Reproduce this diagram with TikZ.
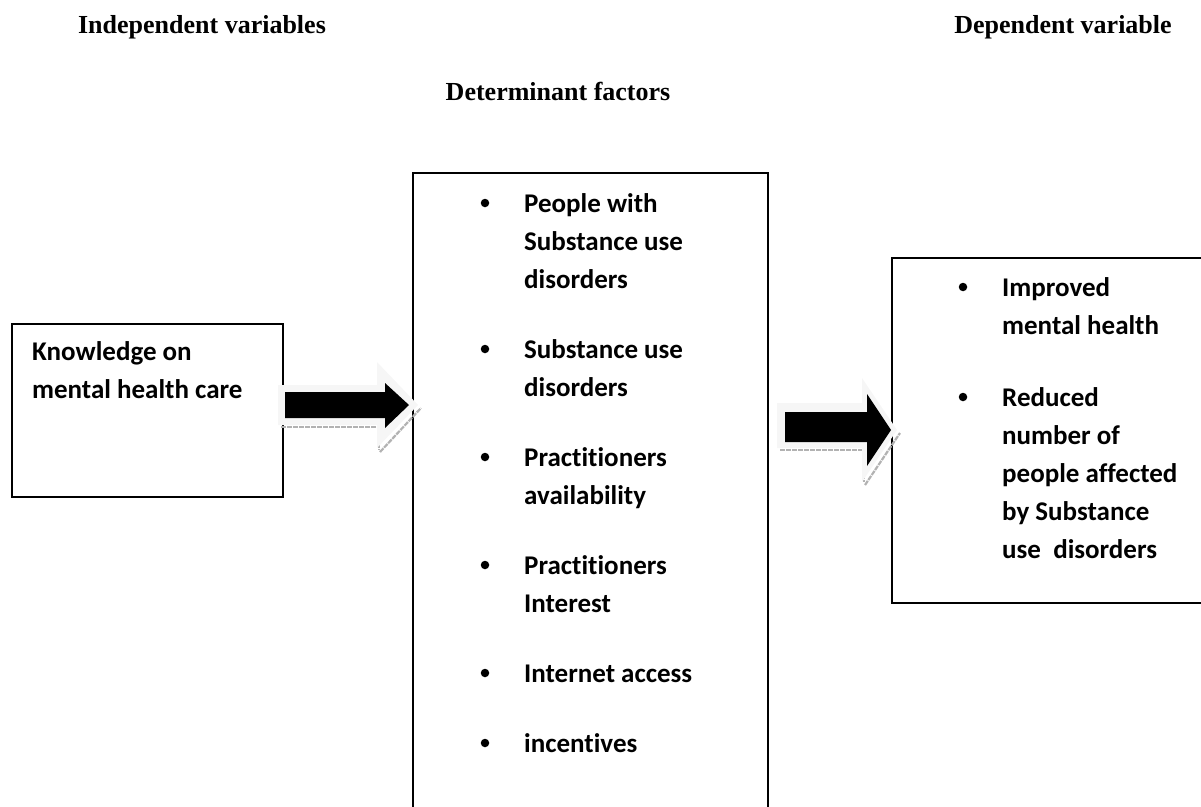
\documentclass[tikz,border=0pt]{standalone}
\usepackage{fontspec}
\setmainfont{Liberation Serif}
\newfontfamily\calfont[Ligatures=NoCommon]{Carlito}
\begin{document}
\begin{tikzpicture}[x=1pt,y=-1pt,
  heading/.style={font=\fontsize{26}{30}\selectfont\bfseries, anchor=base, inner sep=0pt},
  item/.style={font=\calfont\fontsize{27}{32}\selectfont\bfseries, anchor=base west, inner sep=0pt},
  boxline/.style={draw=black, line width=1.4pt},
  bul/.style={circle, fill=black, inner sep=0pt, minimum size=8.5pt},
  arrshadow/.style={draw=gray!60, line width=2.2pt, dash pattern=on 5pt off 1pt},
  arrrim/.style={fill=gray!7},
  arrbody/.style={fill=black}]
\useasboundingbox (0,0) rectangle (1201,806);
\begin{scope}
\clip (0,0) rectangle (1201,806);
% headings
\node[heading] (hind) at (202,33) {Independent variables};
\node[heading] (hdep) at (1063,33) {Dependent variable};
\node[heading] (hdet) at (558,100) {Determinant factors};
% boxes
\draw[boxline] (12,324) rectangle (283,497);
\draw[boxline] (413,173) rectangle (768,830);
\draw[boxline] (892,258) rectangle (1230,603);
% left box text
\node[item] (k1) at (32,360) {Knowledge on};
\node[item] (k2) at (32,398) {mental health care};
% middle box
\foreach \y/\t [count=\i] in {212/People with, 250/Substance use, 288/disorders,
  358/Substance use, 396/disorders, 466/Practitioners, 504/availability,
  574/Practitioners, 612/Interest, 682/Internet access, 752/incentives}
  {\node[item] (m\i) at (524,\y) {\t};}
\foreach \y [count=\i] in {212,358,466,574,682,752}
  {\node[bul] (mb\i) at (485,\y-9) {};}
% right box
\foreach \y/\t [count=\i] in {296/Improved, 334/mental health, 406/Reduced,
  444/number of, 482/people affected, 520/by Substance, 558/use\ \ disorders}
  {\node[item] (r\i) at (1002,\y) {\t};}
\foreach \y [count=\i] in {296,406}
  {\node[bul] (rb\i) at (963,\y-9) {};}
% arrow 1
\draw[arrshadow] (281,427) -- (379,427) -- (379,450);
\draw[arrshadow] (380,452) -- (421,408);
\fill[arrrim] (278,385) -- (377,385) -- (377,362) -- (418,405) -- (377,448) -- (377,425) -- (278,425) -- cycle;
\fill[arrbody] (285,392) -- (385,392) -- (385,383) -- (409,405) -- (385,428) -- (385,418) -- (285,418) -- cycle;
% arrow 2
\draw[arrshadow] (780,450) -- (864,450) -- (864,482);
\draw[arrshadow] (865,485) -- (900,433);
\fill[arrrim] (777,403) -- (862,403) -- (862,378) -- (897,430) -- (862,482) -- (862,448) -- (777,448) -- cycle;
\fill[arrbody] (785,412) -- (867,412) -- (867,394) -- (891,430) -- (867,466) -- (867,442) -- (785,442) -- cycle;
\end{scope}
\end{tikzpicture}
\end{document}
